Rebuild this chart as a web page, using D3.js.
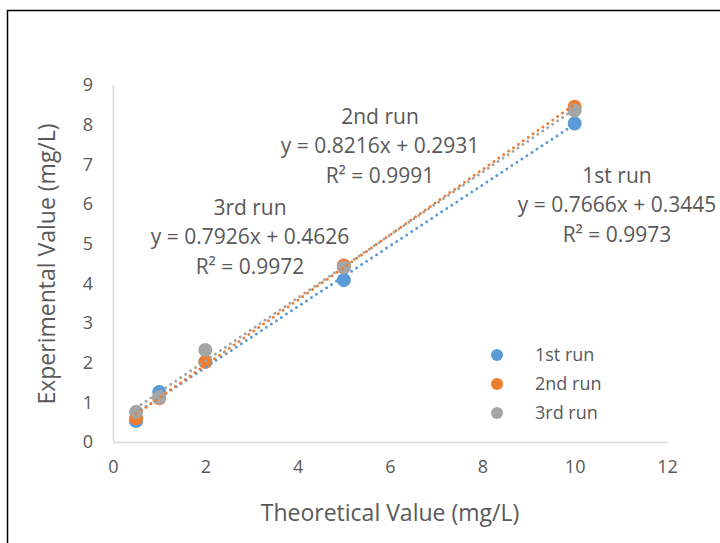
<!DOCTYPE html>
<html>
<head>
<meta charset="utf-8">
<script src="https://cdn.jsdelivr.net/npm/d3@7"></script>
<style>
  body { margin: 0; background: #fff; }
  svg text { font-family: "Open Sans", "Noto Sans", sans-serif; fill: #595959; }
</style>
</head>
<body>
<svg id="chart" width="720" height="543"></svg>
<script>
// values
var xValues = [0.5, 1, 2, 5, 10];
var run1 = [0.53, 1.26, 2.02, 4.08, 8.03];
var run2 = [0.6, 1.1, 2.02, 4.45, 8.45];
var run3 = [0.76, 1.12, 2.32, 4.4, 8.36];
var seriesNames = ["1st run", "2nd run", "3rd run"];
var slopes = [0.7666, 0.8216, 0.7926];
var intercepts = [0.3445, 0.2931, 0.4626];
var r2 = ["0.9973", "0.9991", "0.9972"];
var xTicks = [0, 2, 4, 6, 8, 10, 12];
var yTicks = [0, 1, 2, 3, 4, 5, 6, 7, 8, 9];
var colors = ["#5B9BD5", "#ED7D31", "#A5A5A5"];

var svg = d3.select("#chart");

var
  plotLeft = 113, plotRight = 667, plotTop = 85, plotBottom = 442,
  x = d3.scaleLinear().domain([0, 12]).range([plotLeft, plotRight]),
  y = d3.scaleLinear().domain([0, 9]).range([plotBottom, plotTop]);

// outer frame (only top and left visible in the crop)
svg.append("path")
  .attr("d", "M7.5,543 V10.5 H720")
  .attr("fill", "none")
  .attr("stroke", "#000")
  .attr("stroke-width", 1.5);

// axes
var xAxis = svg.append("g")
  .attr("transform", "translate(0," + plotBottom + ")")
  .call(d3.axisBottom(x).tickValues(xTicks).tickSize(0).tickPadding(18));
xAxis.select(".domain").attr("stroke", "#d9d9d9").attr("stroke-width", 1.5);
xAxis.selectAll("text").style("font-size", "18px").attr("fill", "#595959");

var yAxis = svg.append("g")
  .attr("transform", "translate(" + plotLeft + ",0)")
  .call(d3.axisLeft(y).tickValues(yTicks).tickSize(0).tickPadding(20));
yAxis.select(".domain").attr("stroke", "#d9d9d9").attr("stroke-width", 1.5);
yAxis.selectAll("text").style("font-size", "18px").attr("fill", "#595959");

// axis titles
svg.append("text")
  .attr("x", 390).attr("y", 521)
  .attr("text-anchor", "middle")
  .style("font-size", "23px")
  .text("Theoretical Value (mg/L)");

svg.append("text")
  .attr("transform", "translate(55,264) rotate(-90)")
  .attr("text-anchor", "middle")
  .style("font-size", "23px")
  .text("Experimental Value (mg/L)");

// markers
var allRuns = [run1, run2, run3];
allRuns.forEach((vals, i) => {
  svg.append("g").selectAll("circle")
    .data(vals)
    .join("circle")
    .attr("cx", (d, j) => x(xValues[j]))
    .attr("cy", (d) => y(d))
    .attr("r", 7)
    .attr("fill", colors[i]);
});

// trendlines
var xMin = d3.min(xValues), xMax = d3.max(xValues);
slopes.forEach((m, i) => {
  svg.append("line")
    .attr("x1", x(xMin)).attr("y1", y(m * xMin + intercepts[i]))
    .attr("x2", x(xMax)).attr("y2", y(m * xMax + intercepts[i]))
    .attr("stroke", colors[i])
    .attr("stroke-width", 3)
    .attr("stroke-linecap", "round")
    .attr("stroke-dasharray", "0,6");
});

// trendline labels
var labelPos = [[617, 183], [380, 124], [250, 215]];
slopes.forEach((m, i) => {
  var t = svg.append("text")
    .attr("x", labelPos[i][0]).attr("y", labelPos[i][1])
    .attr("text-anchor", "middle")
    .style("font-size", "21px");
  t.append("tspan").attr("x", labelPos[i][0]).text(seriesNames[i]);
  t.append("tspan").attr("x", labelPos[i][0]).attr("dy", 29)
    .text("y = " + m.toFixed(4) + "x + " + intercepts[i].toFixed(4));
  t.append("tspan").attr("x", labelPos[i][0]).attr("dy", 30)
    .text("R² = " + r2[i]);
});

// legend
var legend = svg.append("g").selectAll("g")
  .data(seriesNames)
  .join("g")
  .attr("transform", (d, i) => "translate(497," + (355 + i * 29) + ")");
legend.append("circle").attr("r", 6).attr("fill", (d, i) => colors[i]);
legend.append("text")
  .attr("x", 38).attr("y", 6)
  .style("font-size", "18px")
  .text((d) => d);
</script>
</body>
</html>
